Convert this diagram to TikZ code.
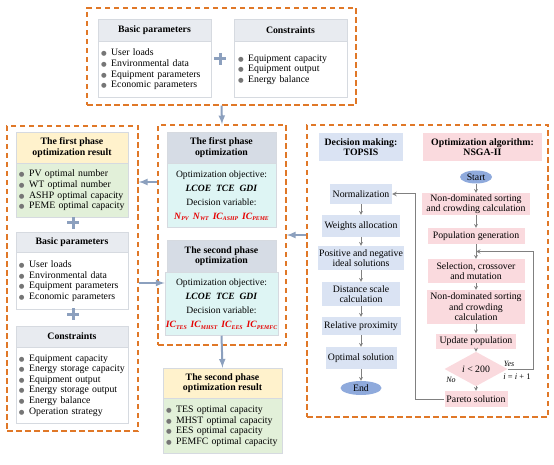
\documentclass[tikz,border=0pt]{standalone}
\usepackage{fontspec}
\setmainfont{Liberation Serif}
\newfontfamily\dotfont{DejaVu Sans}
\usetikzlibrary{arrows,shapes,positioning,calc}

\definecolor{frameorange}{RGB}{224,120,40}
\definecolor{boxline}{RGB}{214,218,224}
\definecolor{hdrgray}{RGB}{232,235,240}
\definecolor{midgray}{RGB}{214,220,229}
\definecolor{objcyan}{RGB}{222,245,244}
\definecolor{resyellow}{RGB}{255,242,204}
\definecolor{resgreen}{RGB}{226,240,217}
\definecolor{topsisblue}{RGB}{218,227,243}
\definecolor{nsgapink}{RGB}{250,218,222}
\definecolor{ovalblue}{RGB}{143,170,220}
\definecolor{arrowblue}{RGB}{140,160,190}
\definecolor{flowgray}{RGB}{128,128,128}
\definecolor{dotgray}{RGB}{118,118,118}
\definecolor{varred}{RGB}{230,0,0}

\newcommand{\itm}{{\color{dotgray}\dotfont\fontsize{6.5}{6.5}\selectfont ●}\hspace{4.5pt}}
\newcommand{\decvar}[2]{\textcolor{varred}{\textbf{\textit{#1}}\raisebox{-0.35ex}{\fontsize{5.8}{6}\selectfont\bfseries\itshape #2}}}

\tikzset{
  dashframe/.style={draw=frameorange, line width=1.4pt, dash pattern=on 5.5pt off 3.5pt},
  hdr/.style={draw=boxline, line width=0.5pt, fill=#1, font=\fontsize{9.8}{10.6}\selectfont\bfseries, align=center, inner sep=1pt},
  hdr/.default=hdrgray,
  listbox/.style={draw=boxline, line width=0.5pt, fill=#1, align=left, inner xsep=3pt, inner ysep=2pt},
  listbox/.default=white,
  objbox/.style={draw=boxline, line width=0.5pt, fill=objcyan, align=center, inner sep=1pt, font=\fontsize{9.6}{14}\selectfont},
  topsis/.style={fill=topsisblue, align=center, inner sep=1pt},
  nsga/.style={fill=nsgapink, align=center, inner sep=1pt},
  oval/.style={ellipse, fill=ovalblue, inner sep=0pt},
  choice/.style={diamond, fill=nsgapink, inner sep=0pt},
  plussign/.style={minimum size=12pt, inner sep=0pt, path picture={\draw[arrowblue, line width=3pt] (path picture bounding box.north) -- (path picture bounding box.south) (path picture bounding box.west) -- (path picture bounding box.east);}},
  bigarrow/.style={draw=arrowblue, line width=2pt, -latex},
  flow/.style={draw=flowgray, line width=0.7pt, -stealth},
  loopline/.style={draw=flowgray, line width=1pt, -stealth},
}

\begin{document}
\begin{tikzpicture}[x=1pt, y=-1pt, font=\fontsize{9.8}{10.6}\selectfont]
  \useasboundingbox (0,0) rectangle (554,465);

  \node[dashframe, minimum width=269pt, minimum height=97pt] (inputs) at (221.5,56.5) {};
  \node[dashframe, minimum width=131pt, minimum height=305pt] (leftframe) at (72.5,278.5) {};
  \node[dashframe, minimum width=128pt, minimum height=220pt] (midframe) at (222,235) {};
  \node[dashframe, minimum width=241pt, minimum height=292pt] (rightframe) at (427.5,271) {};

  % inputs
  \node[hdr, minimum width=113pt, minimum height=22pt] (bph) at (154.5,30) {Basic parameters};
  \node[listbox, text width=107pt, minimum height=56pt, below=0pt of bph] (bpb)
    {\itm User loads\\ \itm Environmental data\\ \itm Equipment parameters\\ \itm Economic parameters};
  \node[plussign] (plus1) at (220,59) {};
  \node[hdr, minimum width=113pt, minimum height=22pt] (conh) at (290.5,30) {Constraints};
  \node[listbox, text width=105pt, inner xsep=4pt, minimum height=56pt, below=0pt of conh] (conb)
    {\itm Equipment capacity\\ \itm Equipment output\\ \itm Energy balance};

  % left column
  \node[hdr=resyellow, minimum width=112pt, minimum height=31pt] (res1h) at (72,147.5) {The first phase\\optimization result};
  \node[listbox=resgreen, text width=106pt, minimum height=54pt, below=0pt of res1h] (res1b)
    {\itm PV optimal number\\ \itm WT optimal number\\ \itm ASHP optimal capacity\\ \itm PEME optimal capacity};
  \node[plussign] (plus2) at (73,223) {};
  \node[hdr, minimum width=112pt, minimum height=20pt] (bp2h) at (72,242) {Basic parameters};
  \node[listbox, text width=106pt, minimum height=57pt, below=0pt of bp2h] (bp2b)
    {\itm User loads\\ \itm Environmental data\\ \itm Equipment parameters\\ \itm Economic parameters};
  \node[plussign] (plus3) at (73,314) {};
  \node[hdr, minimum width=112pt, minimum height=21pt] (con2h) at (72,336.5) {Constraints};
  \node[listbox, text width=106pt, minimum height=76pt, below=0pt of con2h] (con2b)
    {\itm Equipment capacity\\ \itm Energy storage capacity\\ \itm Equipment output\\ \itm Energy storage output\\ \itm Energy balance\\ \itm Operation strategy};

  % middle column
  \node[hdr=midgray, minimum width=109pt, minimum height=31pt] (opt1h) at (221.5,147.5) {The first phase\\optimization};
  \node[objbox, minimum width=109pt, minimum height=64pt, below=0pt of opt1h] (opt1b)
    {Optimization objective:\\ \textbf{\textit{LCOE\enspace TCE\enspace GDI}}\\ Decision variable:\\
     \decvar{N}{PV}\hspace{4pt}\decvar{N}{WT}\hspace{4pt}\decvar{IC}{ASHP}\hspace{4pt}\decvar{IC}{PEME}};
  \node[hdr=midgray, minimum width=109pt, minimum height=32pt] (opt2h) at (221.5,256) {The second phase\\optimization};
  \node[objbox, minimum width=109pt, minimum height=63pt, below=0pt of opt2h] (opt2b)
    {Optimization objective:\\ \textbf{\textit{LCOE\enspace TCE\enspace GDI}}\\ Decision variable:\\
     \decvar{IC}{TES}\hspace{4pt}\decvar{IC}{MHST}\hspace{4pt}\decvar{IC}{EES}\hspace{4pt}\decvar{IC}{PEMFC}};
  \node[hdr=resyellow, minimum width=119pt, minimum height=30pt] (res2h) at (222.5,383) {The second phase\\optimization result};
  \node[listbox=resgreen, text width=113pt, minimum height=55pt, below=0pt of res2h] (res2b)
    {\itm TES optimal capacity\\ \itm MHST optimal capacity\\ \itm EES optimal capacity\\ \itm PEMFC optimal capacity};

  % TOPSIS
  \node[topsis, font=\fontsize{9.8}{10.6}\selectfont\bfseries, minimum width=84pt, minimum height=28pt] (dm) at (361,147) {Decision making:\\TOPSIS};
  \node[topsis, minimum width=62pt, minimum height=20pt] (norm) at (361,194) {Normalization};
  \node[topsis, minimum width=78pt, minimum height=22pt] (weight) at (361,226) {Weights allocation};
  \node[topsis, minimum width=86pt, minimum height=24pt] (ideal) at (361,258) {Positive and negative\\ideal solutions};
  \node[topsis, minimum width=78pt, minimum height=24pt] (dist) at (361,294) {Distance scale\\calculation};
  \node[topsis, minimum width=79pt, minimum height=18pt] (prox) at (361,326) {Relative proximity};
  \node[topsis, minimum width=71pt, minimum height=22pt] (optsol) at (361,358) {Optimal solution};
  \node[oval, minimum width=41pt, minimum height=14pt] (endnode) at (361,388) {End};
  \draw[flow] (norm) -- (weight);
  \draw[flow] (weight) -- (ideal);
  \draw[flow] (ideal) -- (dist);
  \draw[flow] (dist) -- (prox);
  \draw[flow] (prox) -- (optsol);
  \draw[flow] (optsol) -- (endnode);

  % NSGA-II
  \node[nsga, font=\fontsize{9.8}{10.6}\selectfont\bfseries, minimum width=119pt, minimum height=28pt] (alg) at (482.5,147) {Optimization algorithm:\\NSGA-II};
  \node[oval, minimum width=32pt, minimum height=13pt] (start) at (476,177) {Start};
  \node[nsga, minimum width=108pt, minimum height=22pt] (nds1) at (476,204) {Non-dominated sorting\\and crowding calculation};
  \node[nsga, minimum width=97pt, minimum height=16pt] (popgen) at (476,236) {Population generation};
  \node[nsga, minimum width=97pt, minimum height=24pt] (sel) at (476,271) {Selection, crossover\\and mutation};
  \node[nsga, minimum width=98pt, minimum height=34pt] (nds2) at (476,307) {Non-dominated sorting\\and crowding\\calculation};
  \node[nsga, minimum width=80pt, minimum height=15pt] (upd) at (476,341) {Update population};
  \node[choice, minimum width=63pt, minimum height=17pt] (dec) at (476,369) {\textit{i} < 200};
  \node[nsga, minimum width=63pt, minimum height=16pt] (pareto) at (476,399) {Pareto solution};
  \coordinate (loopin) at ($(popgen.south)!0.5!(sel.north)$);
  \draw[flow] (start) -- (nds1);
  \draw[flow] (nds1) -- (popgen);
  \draw[flow] (popgen) -- (sel);
  \draw[flow] (sel) -- (nds2);
  \draw[flow] (nds2) -- (upd);
  \draw[flow] (upd) -- (dec);
  \draw[flow] (dec) -- (pareto);
  \draw[loopline] (dec.east) -| ($(loopin)+(57,0)$) -- (loopin);
  \draw[loopline] (pareto.west) -| ($(norm.east)+(23,0)$) -- (norm.east);
  \node[font=\fontsize{8}{9}\selectfont\itshape] (yes) at (509,364) {Yes};
  \node[font=\fontsize{8.5}{9}\selectfont] (inc) at (517,377) {\textit{i} = \textit{i} + 1};
  \node[font=\fontsize{8}{9}\selectfont\itshape] (no) at (451,380) {No};

  % connections between the parts
  \coordinate (tap1) at (0,182);
  \coordinate (tap2) at (0,283);
  \draw[bigarrow] (inputs.south) -- (midframe.north);
  \draw[bigarrow] (tap1 -| midframe.west) -- (tap1 -| leftframe.east);
  \draw[bigarrow] (tap2 -| leftframe.east) -- (tap2 -| opt2b.west);
  \draw[bigarrow] (rightframe.west |- midframe.east) -- (midframe.east);
  \draw[bigarrow] (opt2b.south) -- (res2h.north);
\end{tikzpicture}
\end{document}
